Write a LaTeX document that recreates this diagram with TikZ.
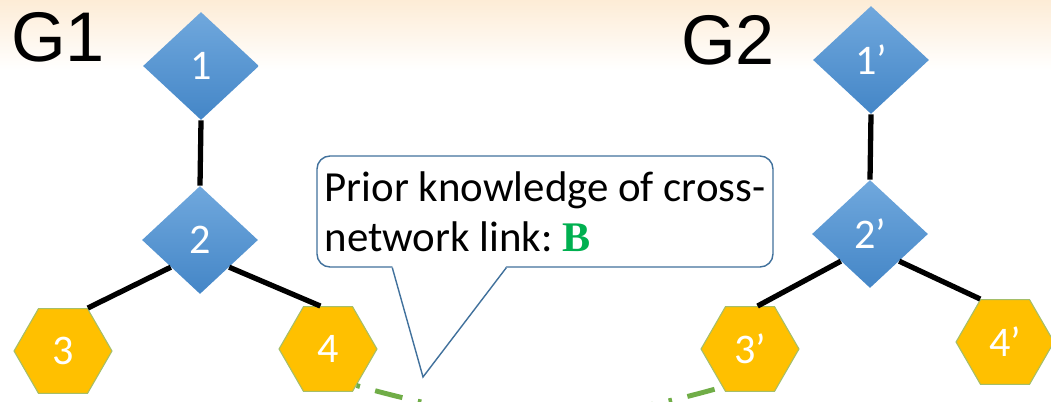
\documentclass[tikz,border=0pt]{standalone}
\usepackage{fontspec}
\setmainfont{Carlito}
\newfontfamily\baslikfont{Liberation Sans}
\newfontfamily\harffont{Liberation Serif}
\usetikzlibrary{shapes.geometric}

\definecolor{maviust}{RGB}{112,168,221}
\definecolor{mavialt}{RGB}{68,134,199}
\definecolor{sari}{RGB}{255,192,0}
\definecolor{sarikenar}{RGB}{165,190,105}
\definecolor{notkenar}{RGB}{65,113,156}
\definecolor{yesil}{RGB}{0,176,80}
\definecolor{yesilcizgi}{RGB}{112,173,71}
\definecolor{arkaust}{RGB}{253,236,214}

\begin{document}
\begin{tikzpicture}[>=stealth,
    baklava/.style={diamond, minimum width=2.32cm, minimum height=2.16cm, inner sep=0pt,
        top color=maviust, bottom color=mavialt, text=white, font=\fontsize{24}{24}\selectfont},
    altigen/.style={regular polygon, regular polygon sides=6, minimum size=1.96cm, inner sep=0pt,
        fill=sari, draw=sarikenar, line width=0.6pt, text=white, font=\fontsize{24}{24}\selectfont},
    kenar/.style={line width=3pt, black},
    baslik/.style={font=\baslikfont\fontsize{40}{40}\selectfont}]

        \useasboundingbox (0,0) rectangle (21.02,8.02);
        \clip (0,0) rectangle (21.02,8.02);

        % ARKA PLAN
        \shade[top color=arkaust, bottom color=white] (0,6.62) rectangle (21.02,8.02);

        % G1 AGI
        \node[baslik] (g1) at (1.16, 7.28) {G1};
        \node[baklava] (n1) at (4.02, 6.70) {1};
        \node[baklava] (n2) at (4.00, 3.22) {2};
        \node[altigen] (n3) at (1.26, 1.00) {3};
        \node[altigen] (n4) at (6.56, 1.04) {4};

        \draw[kenar] (n1.south) -- (n2.north);
        \draw[kenar] (n2.south west) -- (n3.60);
        \draw[kenar] (n2.south east) -- (n4.100);

        % G2 AGI
        \node[baslik] (g2) at (14.56, 7.22) {G2};
        \node[baklava] (m1) at (17.42, 6.82) {1’};
        \node[baklava] (m2) at (17.40, 3.34) {2’};
        \node[altigen] (m3) at (15.00, 1.04) {3’};
        \node[altigen] (m4) at (20.10, 1.18) {4’};

        \draw[kenar] (m1.south) -- (m2.north);
        \draw[kenar] (m2.south west) -- (m3.80);
        \draw[kenar] (m2.south east) -- (m4.120);

        % Yesil kesik baglanti
        \draw[line width=2.8pt, yesilcizgi, dash pattern=on 2pt off 9pt on 16pt off 9pt]
            (n4.-52) to[out=-16, in=-164] (m3.-126);

        % NOT BALONU
        \node[draw=notkenar, line width=0.8pt, fill=white, rounded corners=0.26cm,
              minimum width=9.12cm, minimum height=2.22cm, align=left,
              font=\fontsize{24.4}{28.5}\selectfont] (bilgi) at (10.90, 3.79)
              {Prior knowledge of cross-\\network link:~{\harffont\bfseries\fontsize{24}{28}\selectfont\color{yesil}B}};
        \coordinate (uc) at (8.46, 0.48);
        \fill[white] ([xshift=1.52cm, yshift=1pt]bilgi.south west) -- (uc) -- ([xshift=3.80cm, yshift=1pt]bilgi.south west) -- cycle;
        \draw[notkenar, line width=0.8pt] ([xshift=1.52cm]bilgi.south west) -- (uc) -- ([xshift=3.80cm]bilgi.south west);
    \end{tikzpicture}
\end{document}
